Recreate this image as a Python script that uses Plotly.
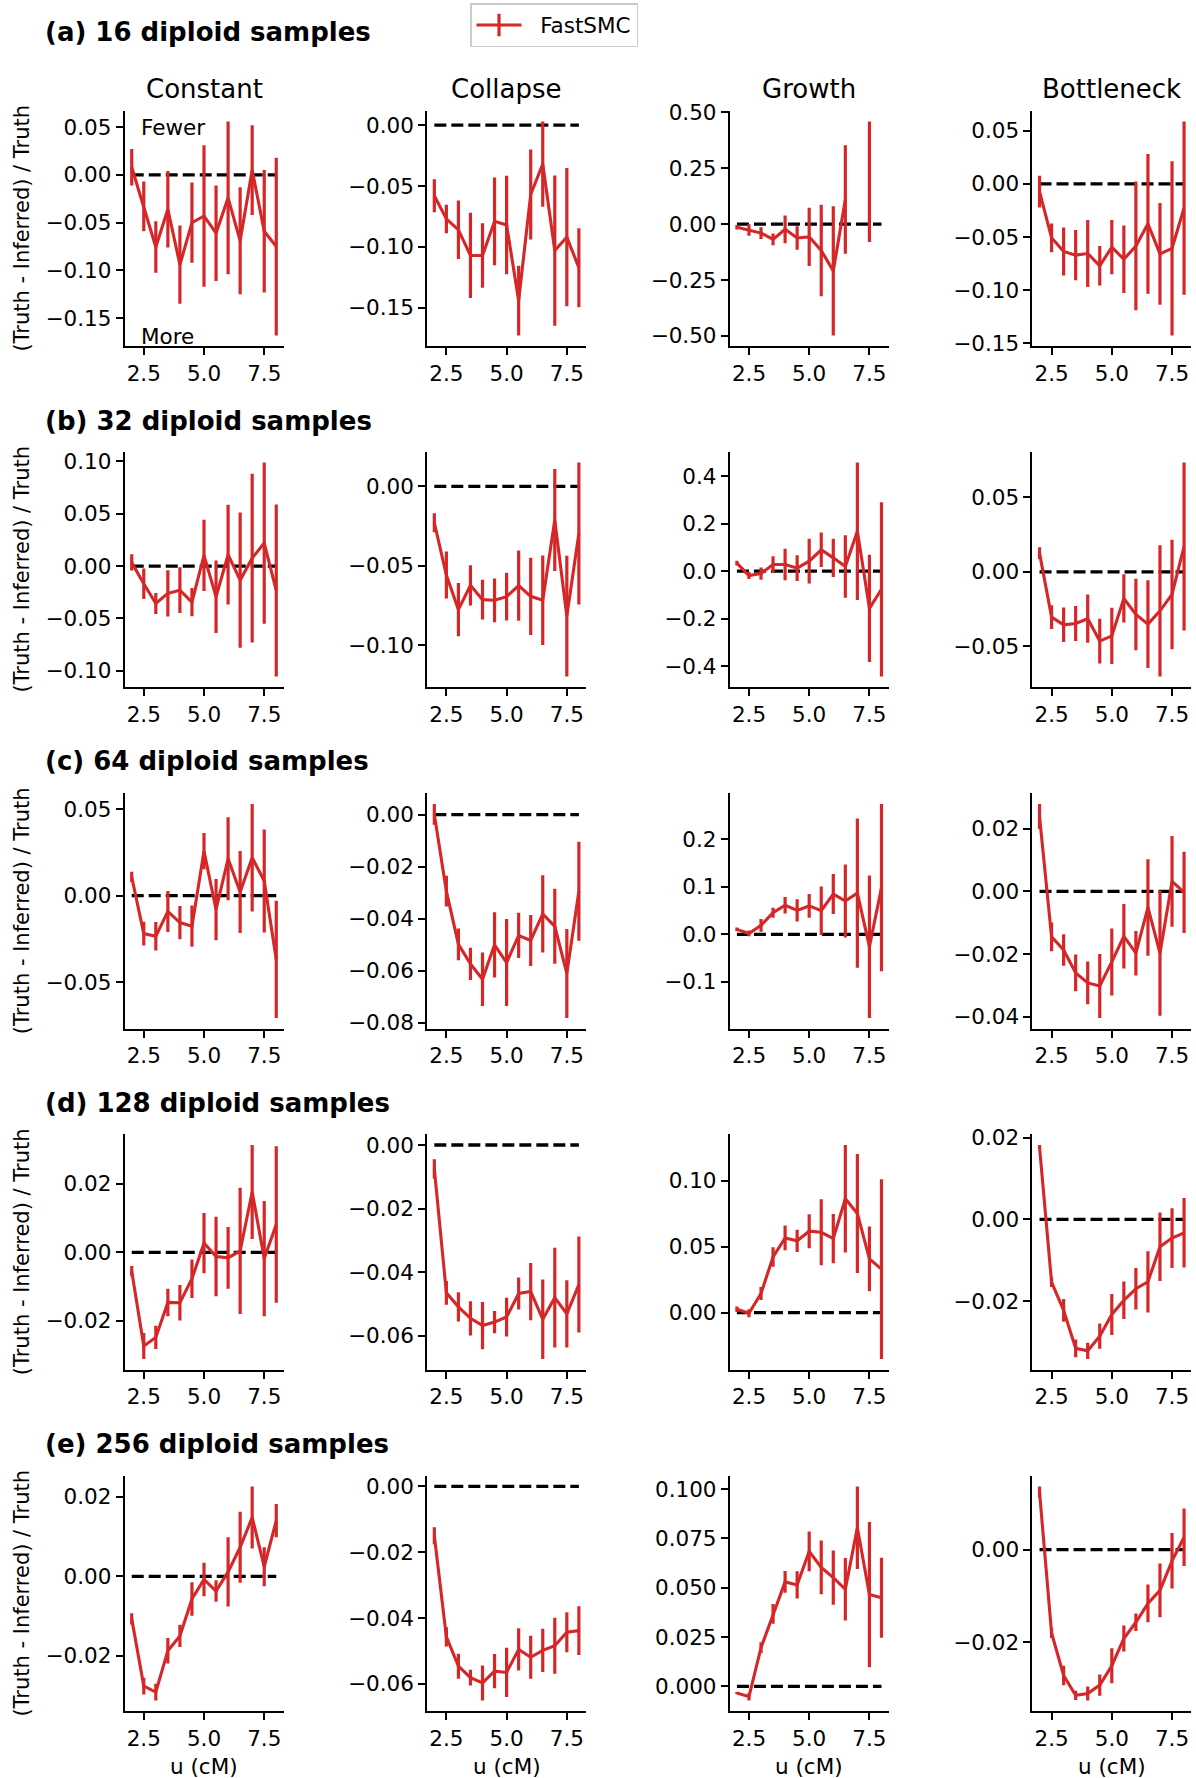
import plotly.graph_objects as go

# ---------------- data ----------------
U_CM = [2.0, 2.5, 3.0, 3.5, 4.0, 4.5, 5.0, 5.5, 6.0, 6.5, 7.0, 7.5, 8.0]
SCENARIOS = ["Constant", "Collapse", "Growth", "Bottleneck"]
ROW_TITLES = ["(a) 16 diploid samples", "(b) 32 diploid samples", "(c) 64 diploid samples",
              "(d) 128 diploid samples", "(e) 256 diploid samples"]
X_TICKS = ["2.5", "5.0", "7.5"]
SERIES_NAME = "FastSMC"

# (a) 16 diploid samples
a_constant_mean = [0.008, -0.033, -0.0755, -0.036, -0.094, -0.050, -0.043, -0.061, -0.024, -0.069, 0.005, -0.059, -0.075]
a_constant_err = [0.019, 0.026, 0.027, 0.040, 0.041, 0.042, 0.074, 0.050, 0.080, 0.056, 0.047, 0.064, 0.093]
a_collapse_mean = [-0.058, -0.077, -0.086, -0.107, -0.107, -0.079, -0.082, -0.144, -0.057, -0.032, -0.103, -0.092, -0.117]
a_collapse_err = [0.0136, 0.0117, 0.024, 0.035, 0.0265, 0.036, 0.0405, 0.0286, 0.037, 0.035, 0.0617, 0.0567, 0.0324]
a_growth_mean = [-0.014, -0.026, -0.040, -0.068, -0.023, -0.062, -0.057, -0.118, -0.209, 0.110, None, 0.190, None]
a_growth_err = [0.010, 0.026, 0.026, 0.026, 0.062, 0.053, 0.130, 0.205, 0.289, 0.243, None, 0.270, None]
a_bottleneck_mean = [-0.0072, -0.0507, -0.0636, -0.067, -0.0655, -0.077, -0.0595, -0.0709, -0.0584, -0.0375, -0.0658, -0.0606, -0.0227]
a_bottleneck_err = [0.015, 0.0135, 0.0227, 0.0236, 0.0315, 0.0186, 0.0255, 0.0318, 0.0606, 0.0658, 0.0479, 0.082, 0.0816]

# (b) 32 diploid samples
b_constant_mean = [0.0035, -0.0169, -0.0357, -0.026, -0.023, -0.0344, 0.0102, -0.0293, 0.011, -0.0134, 0.0076, 0.022, -0.0233]
b_constant_err = [0.0078, 0.0145, 0.010, 0.022, 0.0218, 0.0135, 0.034, 0.0346, 0.0476, 0.0646, 0.0806, 0.077, 0.082]
b_collapse_mean = [-0.0229, -0.0558, -0.0776, -0.0623, -0.0713, -0.0717, -0.0694, -0.0625, -0.0692, -0.0717, -0.0212, -0.0816, -0.0296]
b_collapse_err = [0.006, 0.0148, 0.0168, 0.0126, 0.0125, 0.0138, 0.015, 0.0221, 0.0243, 0.0282, 0.0321, 0.038, 0.0447]
b_growth_mean = [0.034, -0.018, -0.010, 0.028, 0.028, 0.0126, 0.042, 0.090, 0.056, 0.0196, 0.168, -0.156, -0.076]
b_growth_err = [0.010, 0.015, 0.026, 0.035, 0.066, 0.054, 0.094, 0.072, 0.080, 0.131, 0.289, 0.225, 0.366]
b_bottleneck_mean = [0.0125, -0.0304, -0.0356, -0.0347, -0.0315, -0.0465, -0.043, -0.0179, -0.0286, -0.0351, -0.0262, -0.0152, 0.017]
b_bottleneck_err = [0.004, 0.008, 0.0116, 0.0117, 0.0162, 0.015, 0.0188, 0.0162, 0.024, 0.0295, 0.044, 0.0367, 0.0564]

# (c) 64 diploid samples
c_constant_mean = [0.0108, -0.0219, -0.0234, -0.0091, -0.0155, -0.0176, 0.0257, -0.0081, 0.0213, 0.0021, 0.0219, 0.0085, -0.0368]
c_constant_err = [0.003, 0.0069, 0.0082, 0.0118, 0.0096, 0.0119, 0.0104, 0.0177, 0.024, 0.0237, 0.031, 0.0297, 0.0338]
c_collapse_mean = [0.0001, -0.0294, -0.0498, -0.0573, -0.0632, -0.050, -0.0568, -0.0464, -0.0483, -0.0381, -0.0429, -0.061, -0.0294]
c_collapse_err = [0.004, 0.0059, 0.0061, 0.0062, 0.0103, 0.0125, 0.0167, 0.0087, 0.0098, 0.0148, 0.0144, 0.0171, 0.019]
c_growth_mean = [0.0106, 0.002, 0.019, 0.0458, 0.0613, 0.0507, 0.060, 0.050, 0.085, 0.0704, 0.087, -0.026, 0.0986]
c_growth_err = [0.004, 0.006, 0.0134, 0.0106, 0.0173, 0.0236, 0.025, 0.051, 0.042, 0.077, 0.157, 0.150, 0.176]
c_bottleneck_mean = [0.0239, -0.0145, -0.0187, -0.026, -0.0292, -0.0302, -0.0225, -0.0143, -0.0197, -0.0051, -0.0197, 0.0032, -0.0003]
c_bottleneck_err = [0.004, 0.0046, 0.005, 0.0059, 0.0068, 0.0102, 0.0107, 0.0103, 0.0071, 0.0154, 0.020, 0.0145, 0.013]

# (d) 128 diploid samples
d_constant_mean = [-0.0055, -0.0273, -0.0248, -0.0146, -0.0147, -0.0077, 0.0027, -0.0012, -0.0016, 0.0004, 0.0176, -0.0018, 0.0081]
d_constant_err = [0.0015, 0.0038, 0.0034, 0.004, 0.0052, 0.0056, 0.0088, 0.0116, 0.009, 0.0184, 0.0137, 0.0168, 0.0228]
d_collapse_mean = [-0.0075, -0.0465, -0.0509, -0.0545, -0.0568, -0.0557, -0.0541, -0.0467, -0.0461, -0.0548, -0.048, -0.0531, -0.0439]
d_collapse_err = [0.003, 0.0037, 0.0046, 0.0054, 0.0074, 0.0035, 0.0061, 0.005, 0.009, 0.0125, 0.0157, 0.0106, 0.0151]
d_growth_mean = [0.0025, -0.0005, 0.0145, 0.0422, 0.0567, 0.0545, 0.0618, 0.061, 0.0562, 0.0865, 0.0753, 0.0407, 0.033]
d_growth_err = [0.002, 0.003, 0.005, 0.0075, 0.0094, 0.0085, 0.0129, 0.025, 0.0187, 0.0408, 0.0452, 0.0246, 0.0683]
d_bottleneck_mean = [0.0177, -0.0154, -0.0223, -0.0316, -0.0322, -0.0286, -0.0233, -0.0198, -0.017, -0.0153, -0.0067, -0.0046, -0.0033]
d_bottleneck_err = [0.0005, 0.0012, 0.0028, 0.0022, 0.002, 0.0031, 0.005, 0.0046, 0.0051, 0.0075, 0.0084, 0.0073, 0.0085]

# (e) 256 diploid samples
e_constant_mean = [-0.0107, -0.0276, -0.0291, -0.0187, -0.015, -0.0057, -0.0008, -0.0037, 0.0011, 0.0073, 0.0148, 0.0024, 0.014]
e_constant_err = [0.0014, 0.0021, 0.0021, 0.0032, 0.0028, 0.0042, 0.0042, 0.0027, 0.0087, 0.0089, 0.0078, 0.0049, 0.0042]
e_collapse_mean = [-0.015, -0.0457, -0.0546, -0.0581, -0.0597, -0.0561, -0.0565, -0.0495, -0.0519, -0.0498, -0.0484, -0.0443, -0.0438]
e_collapse_err = [0.0026, 0.0029, 0.0038, 0.0024, 0.0053, 0.0052, 0.0075, 0.0064, 0.0065, 0.0066, 0.0085, 0.0061, 0.0074]
e_growth_mean = [-0.0034, -0.0052, 0.0196, 0.0367, 0.0529, 0.0514, 0.0684, 0.0603, 0.0551, 0.0492, 0.0804, 0.0465, 0.0449]
e_growth_err = [0.0005, 0.0019, 0.0027, 0.005, 0.0055, 0.0069, 0.0101, 0.0136, 0.0137, 0.0158, 0.0209, 0.0368, 0.0203]
e_bottleneck_mean = [0.0125, -0.018, -0.0272, -0.0315, -0.0311, -0.0293, -0.0251, -0.0192, -0.0157, -0.0116, -0.0088, -0.0024, 0.0027]
e_bottleneck_err = [0.0012, 0.0011, 0.0021, 0.001, 0.0015, 0.0023, 0.0038, 0.0028, 0.0019, 0.0041, 0.0058, 0.006, 0.0062]

# y tick labels per panel
a_ticks = [["0.05", "0.00", "−0.05", "−0.10", "−0.15"], ["0.00", "−0.05", "−0.10", "−0.15"],
           ["0.50", "0.25", "0.00", "−0.25", "−0.50"], ["0.05", "0.00", "−0.05", "−0.10", "−0.15"]]
b_ticks = [["0.10", "0.05", "0.00", "−0.05", "−0.10"], ["0.00", "−0.05", "−0.10"],
           ["0.4", "0.2", "0.0", "−0.2", "−0.4"], ["0.05", "0.00", "−0.05"]]
c_ticks = [["0.05", "0.00", "−0.05"], ["0.00", "−0.02", "−0.04", "−0.06", "−0.08"],
           ["0.2", "0.1", "0.0", "−0.1"], ["0.02", "0.00", "−0.02", "−0.04"]]
d_ticks = [["0.02", "0.00", "−0.02"], ["0.00", "−0.02", "−0.04", "−0.06"],
           ["0.10", "0.05", "0.00"], ["0.02", "0.00", "−0.02"]]
e_ticks = [["0.02", "0.00", "−0.02"], ["0.00", "−0.02", "−0.04", "−0.06"],
           ["0.100", "0.075", "0.050", "0.025", "0.000"], ["0.00", "−0.02"]]

ROWS = [
    ([a_constant_mean, a_collapse_mean, a_growth_mean, a_bottleneck_mean],
     [a_constant_err, a_collapse_err, a_growth_err, a_bottleneck_err], a_ticks),
    ([b_constant_mean, b_collapse_mean, b_growth_mean, b_bottleneck_mean],
     [b_constant_err, b_collapse_err, b_growth_err, b_bottleneck_err], b_ticks),
    ([c_constant_mean, c_collapse_mean, c_growth_mean, c_bottleneck_mean],
     [c_constant_err, c_collapse_err, c_growth_err, c_bottleneck_err], c_ticks),
    ([d_constant_mean, d_collapse_mean, d_growth_mean, d_bottleneck_mean],
     [d_constant_err, d_collapse_err, d_growth_err, d_bottleneck_err], d_ticks),
    ([e_constant_mean, e_collapse_mean, e_growth_mean, e_bottleneck_mean],
     [e_constant_err, e_collapse_err, e_growth_err, e_bottleneck_err], e_ticks),
]

# ---------------- layout geometry ----------------
W, H = 1196, 1778
COL_LEFT = [124.5, 427.1, 729.7, 1032.3]
COL_W = 159.0
ROW_TOP = [110.7, 451.7, 793.3, 1134.3, 1475.7]
ROW_H = 235.4
ROW_TITLE_Y = [32.0, 420.7, 761.3, 1103.3, 1444.3]
RED = "#d62728"
FONT = "DejaVu Sans"
TICK_FS = 21.5


def to_num(s):
    return float(s.replace("−", "-"))


def yrange(mean, err):
    vals = [0.0]
    for m, e in zip(mean, err):
        if m is None:
            continue
        vals += [m - e, m + e]
    lo, hi = min(vals), max(vals)
    pad = 0.05 * (hi - lo)
    return [lo - pad, hi + pad]


xlo, xhi = min(U_CM), max(U_CM)
xpad = 0.05 * (xhi - xlo)

fig = go.Figure()
layout = {}
annotations = []

n = 0
for r, (means, errs, ticks) in enumerate(ROWS):
    for c in range(4):
        n += 1
        xa = "x" if n == 1 else f"x{n}"
        ya = "y" if n == 1 else f"y{n}"
        mean, err = means[c], errs[c]
        # truth reference line
        fig.add_trace(go.Scatter(
            x=[U_CM[0], U_CM[-1]], y=[0, 0], mode="lines",
            line=dict(color="black", width=3.3, dash="12px,5px"),
            xaxis=xa, yaxis=ya, showlegend=False, hoverinfo="skip"))
        fig.add_trace(go.Scatter(
            x=U_CM, y=mean, mode="lines",
            line=dict(color=RED, width=3.1),
            error_y=dict(type="data", array=err, visible=True, color=RED, thickness=3.2, width=0),
            xaxis=xa, yaxis=ya, showlegend=False, name=SERIES_NAME))

        x0 = COL_LEFT[c] / W
        x1 = (COL_LEFT[c] + COL_W) / W
        y1 = 1 - ROW_TOP[r] / H
        y0 = 1 - (ROW_TOP[r] + ROW_H) / H
        axis_common = dict(showgrid=False, zeroline=False, showline=True, linecolor="black",
                           linewidth=1.7, ticks="outside", ticklen=7, tickwidth=1.7,
                           tickcolor="black", automargin=False,
                           tickfont=dict(size=TICK_FS, color="black", family=FONT))
        layout["xaxis" if n == 1 else f"xaxis{n}"] = dict(
            domain=[x0, x1], anchor=ya, range=[xlo - xpad, xhi + xpad],
            tickvals=[to_num(t) for t in X_TICKS], ticktext=X_TICKS, **axis_common)
        layout["yaxis" if n == 1 else f"yaxis{n}"] = dict(
            domain=[y0, y1], anchor=xa, range=yrange(mean, err),
            tickvals=[to_num(t) for t in ticks[c]], ticktext=ticks[c], **axis_common)

        if r == 0:
            annotations.append(dict(text=SCENARIOS[c], xref="paper", yref="paper",
                                    x=(COL_LEFT[c] + COL_W / 2) / W, y=1 - 89.5 / H,
                                    xanchor="center", yanchor="middle", showarrow=False,
                                    font=dict(size=26, family=FONT, color="black")))
        if r == 4:
            annotations.append(dict(text="u (cM)", xref="paper", yref="paper",
                                    x=(COL_LEFT[c] + COL_W / 2) / W, y=1 - 1766.5 / H,
                                    xanchor="center", yanchor="middle", showarrow=False,
                                    font=dict(size=TICK_FS, family=FONT, color="black")))
        if c == 0:
            annotations.append(dict(text="(Truth - Inferred) / Truth", xref="paper", yref="paper",
                                    x=22.2 / W, y=1 - (ROW_TOP[r] + ROW_H / 2) / H,
                                    textangle=-90, xanchor="center", yanchor="middle",
                                    showarrow=False,
                                    font=dict(size=21, family=FONT, color="black")))
    annotations.append(dict(text="<b>" + ROW_TITLES[r] + "</b>", xref="paper", yref="paper",
                            x=42.5 / W, y=1 - ROW_TITLE_Y[r] / H, xanchor="left",
                            yanchor="middle", showarrow=False,
                            font=dict(size=26, family=FONT, color="black")))

annotations.append(dict(text="Fewer", xref="x domain", yref="y domain", x=0.092, y=0.928,
                        xanchor="left", yanchor="middle", showarrow=False,
                        font=dict(size=TICK_FS, family=FONT, color="black")))
annotations.append(dict(text="More", xref="x domain", yref="y domain", x=0.092, y=0.04,
                        xanchor="left", yanchor="middle", showarrow=False,
                        font=dict(size=TICK_FS, family=FONT, color="black")))

# legend entry
fig.add_trace(go.Scatter(x=[None], y=[None], mode="lines+markers",
                         name="\u00a0\u00a0" + SERIES_NAME,
                         line=dict(color=RED, width=3.1),
                         marker=dict(symbol="line-ns", size=20, color=RED,
                                     line=dict(color=RED, width=3.2)),
                         showlegend=True))

fig.update_layout(
    width=W, height=H, margin=dict(l=0, r=0, t=0, b=0, autoexpand=False),
    paper_bgcolor="white", plot_bgcolor="white",
    font=dict(family=FONT, color="black"),
    showlegend=True,
    legend=dict(x=470 / W, y=1 - 3 / H, xanchor="left", yanchor="top",
                bordercolor="#cccccc", borderwidth=1.5, bgcolor="white",
                font=dict(size=TICK_FS, family=FONT, color="black"),
                itemwidth=45, tracegroupgap=0),
    annotations=annotations,
    **layout,
)

fig.write_html("out.html")
